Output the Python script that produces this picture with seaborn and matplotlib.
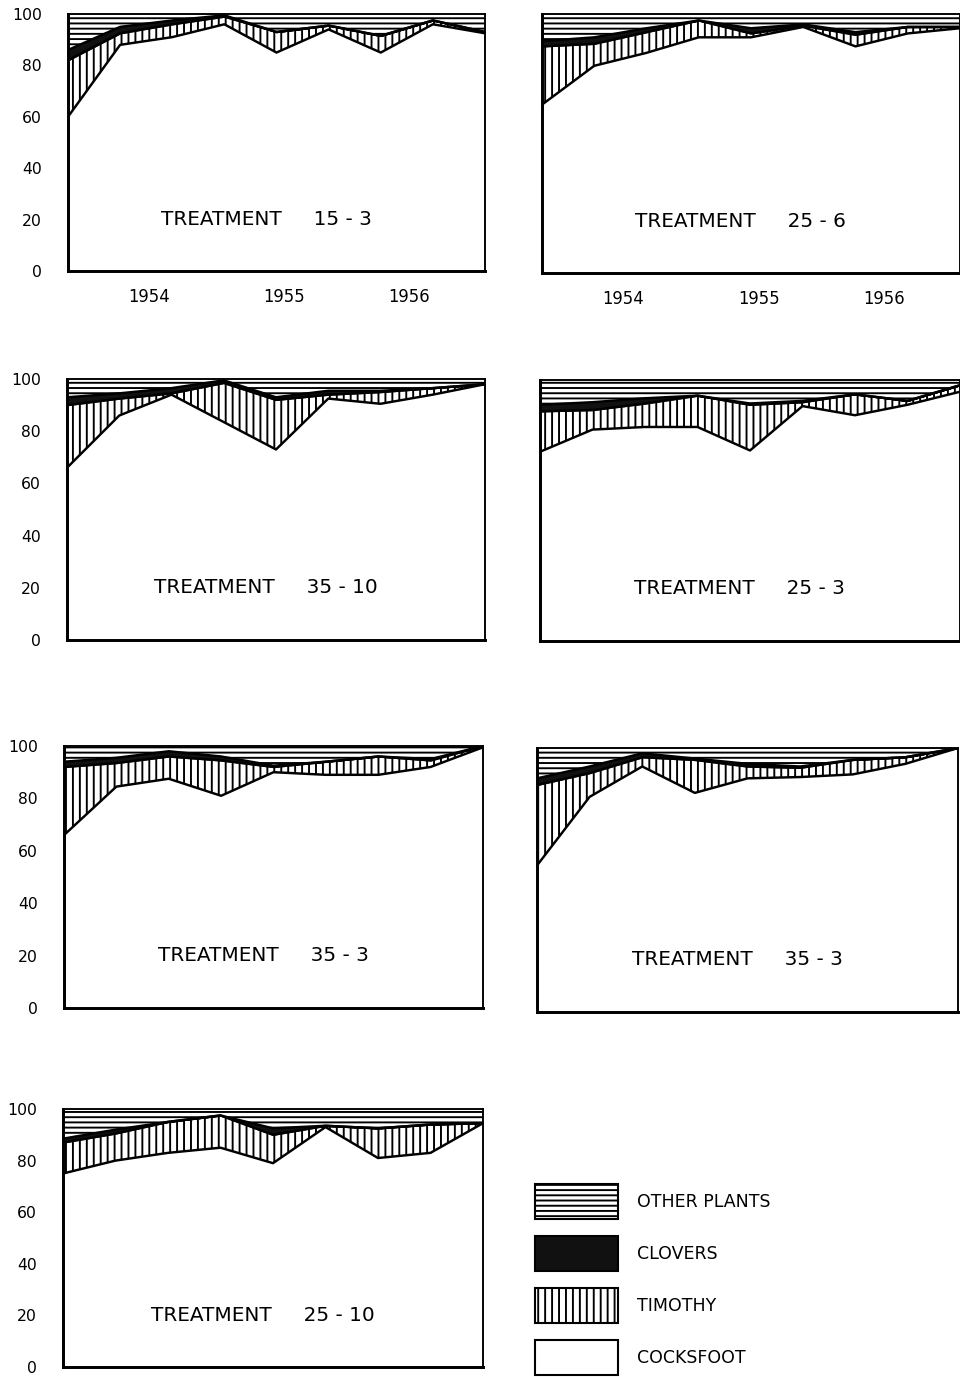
import numpy as np
import matplotlib
matplotlib.use("Agg")
import matplotlib.pyplot as plt
import seaborn as sns
from matplotlib.patches import Patch

# ---------------- data ----------------
samples = [0, 1, 2, 3, 4, 5, 6, 7, 8]          # sampling dates, 1954-1956
year_ticks = [1.55, 4.15, 6.55]
year_labels = ["1954", "1955", "1956"]
y_ticks = [0, 20, 40, 60, 80, 100]
species = ["OTHER PLANTS", "CLOVERS", "TIMOTHY", "COCKSFOOT"]

treatments = ["15 - 3", "25 - 6", "35 - 10", "25 - 3", "35 - 3", "35 - 3", "25 - 10"]

cocksfoot_1 = [60, 88, 91, 96, 85, 94, 85, 96, 92.5]
timothy_1 = [22, 4.5, 5, 3, 8, 1.5, 6.5, 1.5, 0.5]
clovers_1 = [4, 2.5, 1.5, 0.5, 0, 0, 0, 0, 0]
other_1 = [14, 5, 2.5, 0.5, 7, 4.5, 8.5, 2.5, 7]

cocksfoot_2 = [65, 80, 85, 91, 91, 95, 87.5, 92.5, 94.5]
timothy_2 = [22.5, 8.5, 8, 6.5, 1.5, 0.5, 4.5, 2.5, 0.5]
clovers_2 = [2, 2.5, 1.5, 0, 2, 0.5, 1, 0, 0]
other_2 = [10.5, 9, 5.5, 2.5, 5.5, 4, 7, 5, 5]

cocksfoot_3 = [66, 86, 94, 83.5, 73, 92.5, 90.5, 94, 98]
timothy_3 = [24, 6.5, 0.5, 15, 19, 1.5, 4.5, 2.5, 0]
clovers_3 = [3, 2, 2, 1, 1, 1.5, 0.5, 0, 0]
other_3 = [7, 5.5, 3.5, 0.5, 7, 4.5, 4.5, 3.5, 2]

cocksfoot_4 = [72.5, 81, 82, 82, 73, 90, 86.5, 90.5, 95.5]
timothy_4 = [15.5, 7.5, 9, 12, 17.5, 1.5, 8, 1.5, 2.5]
clovers_4 = [2.5, 3, 2, 0, 0.5, 0.5, 0, 0, 0]
other_4 = [9.5, 8.5, 7, 6, 9, 8, 5.5, 8, 2]

cocksfoot_5 = [66, 84.5, 87.5, 81, 90, 89, 89, 92, 99.5]
timothy_5 = [26, 9, 8.5, 13.5, 2, 5, 7, 2.5, 0.5]
clovers_5 = [2, 2, 2, 1.5, 0.5, 0, 0, 0.5, 0]
other_5 = [6, 4.5, 2, 4, 7.5, 6, 4, 5, 0]

cocksfoot_6 = [55.5, 81.5, 93, 83, 88.5, 89, 90, 94, 100]
timothy_6 = [30.5, 9, 3.5, 12.5, 4.5, 3.5, 5.5, 2.5, 0]
clovers_6 = [2.5, 2.5, 1.5, 0.5, 1, 0.5, 0, 0, 0]
other_6 = [11.5, 7, 2, 4, 6, 7, 4.5, 3.5, 0]

cocksfoot_7 = [75, 80, 83, 85, 79, 93, 81, 83, 94.5]
timothy_7 = [12, 10.5, 12, 12.5, 11, 0.5, 11.5, 11, 0]
clovers_7 = [1.5, 1.5, 0, 0, 2.5, 0, 0, 0, 0]
other_7 = [11.5, 8, 5, 2.5, 7.5, 6.5, 7.5, 6, 5.5]

panels = [
    (cocksfoot_1, timothy_1, clovers_1, other_1),
    (cocksfoot_2, timothy_2, clovers_2, other_2),
    (cocksfoot_3, timothy_3, clovers_3, other_3),
    (cocksfoot_4, timothy_4, clovers_4, other_4),
    (cocksfoot_5, timothy_5, clovers_5, other_5),
    (cocksfoot_6, timothy_6, clovers_6, other_6),
    (cocksfoot_7, timothy_7, clovers_7, other_7),
]

# ---------------- layout (pixels: left, right, top, bottom) ----------------
W, H = 960, 1377
boxes = [
    (68, 485, 14, 271),
    (542, 960, 14, 273),
    (67, 485, 379, 640),
    (540, 960, 380, 641),
    (64, 483, 746, 1008),
    (537, 958, 748, 1012),
    (63, 483, 1109, 1367),
]
show_ylabels = [True, False, True, False, True, False, True]
show_years = [True, True, False, False, False, False, False]

sns.set_theme(style="white")
plt.rcParams["font.family"] = ["DejaVu Sans"]
plt.rcParams["text.color"] = "black"
plt.rcParams["xtick.color"] = "black"
plt.rcParams["ytick.color"] = "black"
plt.rcParams["hatch.linewidth"] = 1.1

DPI = 125
fig = plt.figure(figsize=(W / DPI, H / DPI), dpi=DPI)
fig.patch.set_facecolor("white")

HATCH_TIM = "|||"
HATCH_OTH = "----"

for k, (vals, box) in enumerate(zip(panels, boxes)):
    l, r, t, b = box
    ax = fig.add_axes([l / W, 1 - b / H, (r - l) / W, (b - t) / H])
    c, tm, cl, o = (np.array(v, dtype=float) for v in vals)
    x = np.array(samples, dtype=float)
    b0 = np.zeros_like(x)
    b1 = b0 + c
    b2 = b1 + tm
    b3 = b2 + cl
    b4 = b3 + o
    ax.fill_between(x, b0, b1, facecolor="white", edgecolor="none")
    ax.fill_between(x, b1, b2, facecolor="white", edgecolor="black",
                    hatch=HATCH_TIM, linewidth=0)
    ax.fill_between(x, b2, b3, facecolor="#111111", edgecolor="#111111",
                    linewidth=0.8)
    ax.fill_between(x, b3, b4, facecolor="white", edgecolor="black",
                    hatch=HATCH_OTH, linewidth=0)
    for bound in (b1, b2, b3):
        sns.lineplot(x=x, y=bound, ax=ax, color="black", linewidth=1.4,
                     estimator=None, sort=False)
    ax.set_xlim(samples[0], samples[-1])
    ax.set_ylim(0, 100)
    ax.set_yticks(y_ticks)
    if show_ylabels[k]:
        ax.set_yticklabels([str(v) for v in y_ticks], fontsize=9, color="black")
    else:
        ax.set_yticklabels([])
    ax.tick_params(axis="y", length=0, pad=15)
    if show_years[k]:
        ax.set_xticks(year_ticks)
        ax.set_xticklabels(year_labels, fontsize=9.5, color="black")
        ax.tick_params(axis="x", length=0, pad=10)
    else:
        ax.set_xticks([])
    ax.set_xlabel("")
    ax.set_ylabel("")
    for side, sp in ax.spines.items():
        sp.set_visible(True)
        sp.set_color("black")
        sp.set_linewidth(1.7 if side in ("left", "bottom") else 1.1)
    ax.text(3.8, 20, "TREATMENT     " + treatments[k], ha="center", va="center",
            fontsize=11.5, color="black")

handles = [
    Patch(facecolor="white", edgecolor="black", hatch=HATCH_OTH, linewidth=1.2),
    Patch(facecolor="#111111", edgecolor="black", linewidth=1.2),
    Patch(facecolor="white", edgecolor="black", hatch=HATCH_TIM, linewidth=1.2),
    Patch(facecolor="white", edgecolor="black", linewidth=1.2),
]
leg = fig.legend(handles, species, loc="upper left",
                 bbox_to_anchor=(535 / W, 1 - 1184 / H), frameon=False,
                 fontsize=10, handlelength=4.8, handleheight=2.7,
                 labelspacing=1.0, handletextpad=1.1, borderpad=0,
                 borderaxespad=0)
for txt in leg.get_texts():
    txt.set_color("black")

fig.savefig("out.png", dpi=DPI, facecolor="white")
